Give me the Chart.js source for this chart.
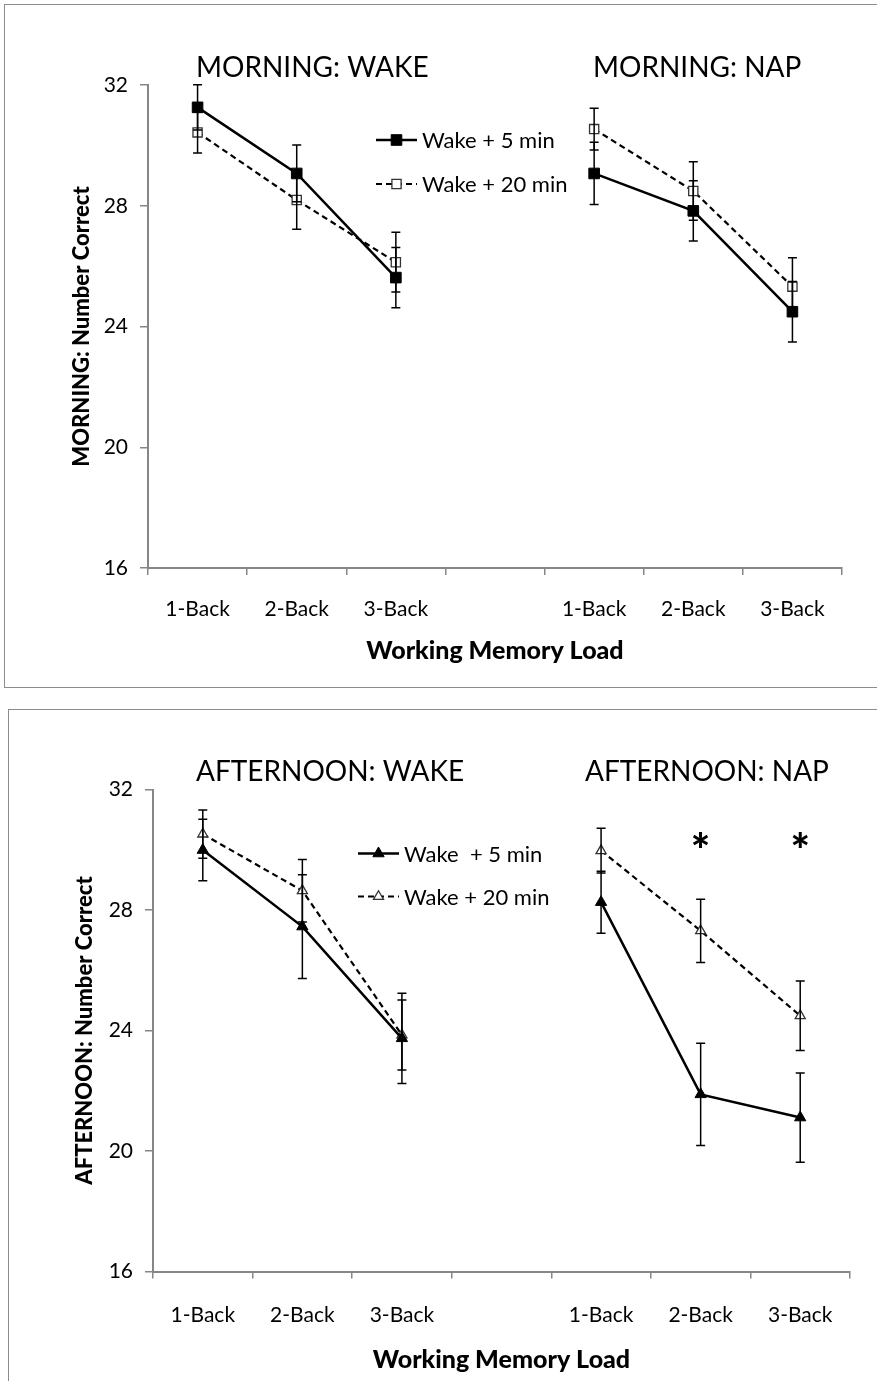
<!DOCTYPE html>
<html>
<head>
<meta charset="utf-8">
<script src="https://cdn.jsdelivr.net/npm/chart.js@4/dist/chart.umd.min.js"></script>
<style>
  html, body { margin: 0; padding: 0; background: #fff; width: 877px; height: 1381px; overflow: hidden; }
  .frame { position: absolute; border: 1.5px solid #8c8c8c; box-sizing: border-box; }
  .wrap { position: absolute; left: 0; width: 877px; }
</style>
</head>
<body>
<div class="frame" style="left:4px; top:4px; width:900px; height:684px;"></div>
<div class="frame" style="left:8px; top:709px; width:900px; height:720px;"></div>
<div class="wrap" style="top:0; height:690px;"><canvas id="morning"></canvas></div>
<div class="wrap" style="top:700px; height:681px;"><canvas id="afternoon"></canvas></div>
<script>
// categories; the empty slot separates the WAKE and NAP groups
const loads = ['1-Back', '2-Back', '3-Back', '', '1-Back', '2-Back', '3-Back'];
const yMin = 16, yMax = 32, yStep = 4;

// morning session (means and error bar half-lengths)
const morningWake5 = [31.26, 29.07, 25.62, null, 29.07, 27.83, 24.49];
const morningWake5Err = [0.75, 0.94, 1.0, null, 1.03, 1.0, 1.0];
const morningWake20 = [30.43, 28.19, 26.13, null, 30.54, 28.49, 25.32];
const morningWake20Err = [0.68, 0.97, 0.99, null, 0.69, 0.97, 0.96];

// afternoon session
const afternoonWake5 = [29.99, 27.45, 23.74, null, 28.26, 21.88, 21.11];
const afternoonWake5Err = [1.02, 1.72, 1.5, null, 1.03, 1.7, 1.48];
const afternoonWake20 = [30.52, 28.64, 23.85, null, 29.97, 27.31, 24.49];
const afternoonWake20Err = [0.8, 1.04, 1.16, null, 0.74, 1.05, 1.15];
const afternoonStars = [null, null, null, null, null, 30.3, 30.3]; // significance marks

const GRAY = '#868686';
Chart.defaults.font.family = 'Lato';
Chart.defaults.color = '#000';

function drawMarker(ctx, style, x, y, r, fill, stroke, bw) {
  ctx.beginPath();
  if (style === 'rect') {
    const s = r * Math.SQRT1_2;
    ctx.rect(x - s, y - s, 2 * s, 2 * s);
  } else {
    for (let k = 0; k < 3; k++) {
      const a = k * 2 * Math.PI / 3;
      const px = x + Math.sin(a) * r, py = y - Math.cos(a) * r;
      if (k) ctx.lineTo(px, py); else ctx.moveTo(px, py);
    }
    ctx.closePath();
  }
  ctx.fillStyle = fill;
  ctx.fill();
  ctx.lineWidth = bw;
  ctx.strokeStyle = stroke;
  ctx.stroke();
}

// error bars, panel titles, legend and asterisks
const decor = {
  id: 'decor',
  afterDatasetsDraw(chart, args, o) {
    const ctx = chart.ctx;
    const ys = chart.scales.y;
    const area = chart.chartArea;
    ctx.save();

    // error bars on top of the markers
    ctx.strokeStyle = '#000';
    ctx.lineWidth = 1.5;
    chart.data.datasets.forEach((ds, i) => {
      const meta = chart.getDatasetMeta(i);
      ds.errors.forEach((e, j) => {
        if (e == null || ds.data[j] == null) return;
        const x = meta.data[j].x;
        const top = ys.getPixelForValue(ds.data[j] + e);
        const bot = ys.getPixelForValue(ds.data[j] - e);
        ctx.beginPath();
        ctx.moveTo(x, top); ctx.lineTo(x, bot);
        ctx.moveTo(x - 4.5, top); ctx.lineTo(x + 4.5, top);
        ctx.moveTo(x - 4.5, bot); ctx.lineTo(x + 4.5, bot);
        ctx.stroke();
      });
    });

    // panel titles
    ctx.fillStyle = '#000';
    ctx.font = '28px Lato';
    ctx.textBaseline = 'alphabetic';
    ctx.textAlign = 'left';
    o.titles.forEach((t, k) => {
      ctx.fillText(t, area.left + o.titleX[k], area.top - o.titleGap);
    });

    // legend
    ctx.font = '22px Lato';
    ctx.textBaseline = 'middle';
    chart.data.datasets.forEach((ds, i) => {
      const y = area.top + o.legendY + i * o.legendGap;
      const x0 = area.left + o.legendX;
      ctx.beginPath();
      ctx.setLineDash(ds.borderDash || []);
      ctx.lineWidth = ds.borderWidth;
      ctx.strokeStyle = '#000';
      ctx.moveTo(x0, y); ctx.lineTo(x0 + 41, y);
      ctx.stroke();
      ctx.setLineDash([]);
      drawMarker(ctx, ds.pointStyle, x0 + 20.5, y, ds.pointRadius,
        ds.pointBackgroundColor, ds.pointBorderColor, ds.pointBorderWidth);
      ctx.fillStyle = '#000';
      ctx.fillText(o.legendLabels[i], x0 + 46, y + 1);
    });

    // asterisks
    if (o.stars) {
      const meta = chart.getDatasetMeta(0);
      ctx.font = '900 46px Lato';
      ctx.textAlign = 'center';
      o.stars.forEach((v, j) => {
        if (v == null) return;
        ctx.fillText('*', meta.data[j].x, ys.getPixelForValue(v) + 11);
      });
    }
    ctx.restore();
  }
};

function makePanel(id, p) {
  const filled = { borderColor: '#000', borderWidth: 2.5, pointBackgroundColor: '#000',
    pointBorderColor: '#000', pointBorderWidth: 1, tension: 0, spanGaps: false };
  const open = { borderColor: '#000', borderWidth: 2.2, borderDash: [6, 4],
    pointBackgroundColor: '#fff', pointBorderColor: '#333', pointBorderWidth: 1.3,
    tension: 0, spanGaps: false };
  return new Chart(document.getElementById(id), {
    type: 'line',
    data: {
      labels: loads,
      datasets: [
        Object.assign({ label: 'Wake + 5 min', data: p.a, errors: p.aErr,
          pointStyle: p.style, pointRadius: p.rA, pointHoverRadius: p.rA }, filled),
        Object.assign({ label: 'Wake + 20 min', data: p.b, errors: p.bErr,
          pointStyle: p.style, pointRadius: p.rB, pointHoverRadius: p.rB }, open)
      ]
    },
    options: {
      responsive: true,
      maintainAspectRatio: false,
      animation: false,
      events: [],
      layout: { padding: { top: p.padTop, right: p.padRight, left: 0, bottom: 0 } },
      plugins: {
        legend: { display: false },
        tooltip: { enabled: false },
        decor: p.decor
      },
      scales: {
        x: {
          type: 'category',
          offset: true,
          afterFit: s => { s.height = p.xHeight; },
          grid: { offset: true, drawOnChartArea: false, tickLength: 7, color: GRAY, lineWidth: 1.5 },
          border: { color: GRAY, width: 2 },
          ticks: { font: { size: 21 }, padding: p.xTickPad, maxRotation: 0, autoSkip: false },
          title: { display: true, text: 'Working Memory Load',
            font: { size: 25, weight: 900 }, padding: { top: 0, bottom: p.xTitlePad } }
        },
        y: {
          min: yMin, max: yMax,
          afterFit: s => { s.width = p.yWidth; },
          grid: { drawOnChartArea: false, tickLength: 8, color: GRAY, lineWidth: 1.5 },
          border: { color: GRAY, width: 2 },
          ticks: { stepSize: yStep, font: { size: 21 }, padding: 12 },
          title: { display: true, text: p.yTitle,
            font: { size: 22, weight: 900 }, padding: { top: p.yTitlePad, bottom: 0 } }
        }
      }
    },
    plugins: [decor]
  });
}

makePanel('morning', {
  a: morningWake5, aErr: morningWake5Err, b: morningWake20, bErr: morningWake20Err,
  style: 'rect', rA: 7.5, rB: 6.5,
  padTop: 85, padRight: 35, xHeight: 122, yWidth: 148,
  xTickPad: 22, xTitlePad: 24, yTitlePad: 69,
  yTitle: 'MORNING: Number Correct',
  decor: {
    titles: ['MORNING: WAKE', 'MORNING: NAP'], titleX: [48, 445], titleGap: 8,
    legendLabels: ['Wake + 5 min', 'Wake + 20 min'],
    legendX: 228, legendY: 55, legendGap: 44
  }
});

makePanel('afternoon', {
  a: afternoonWake5, aErr: afternoonWake5Err, b: afternoonWake20, bErr: afternoonWake20Err,
  style: 'triangle', rA: 6.5, rB: 5.8,
  padTop: 89.5, padRight: 27, xHeight: 109.5, yWidth: 153,
  xTickPad: 24, xTitlePad: 6, yTitlePad: 72,
  yTitle: 'AFTERNOON: Number Correct',
  decor: {
    titles: ['AFTERNOON: WAKE', 'AFTERNOON: NAP'], titleX: [43, 432], titleGap: 9,
    legendLabels: ['Wake  + 5 min', 'Wake + 20 min'],
    legendX: 205, legendY: 64, legendGap: 43,
    stars: afternoonStars
  }
});
</script>
</body>
</html>
